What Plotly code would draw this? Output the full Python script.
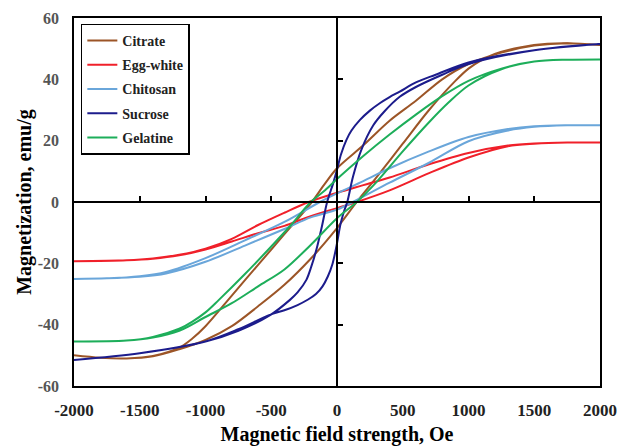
import plotly.graph_objects as go

# ---------------- data ----------------
series_names = ["Citrate", "Egg-white", "Chitosan", "Sucrose", "Gelatine"]
series_colors = ["#9C5527", "#F0202A", "#6AA6DA", "#1C1C8C", "#1DAE5A"]

# Citrate: descending-field branch and ascending-field branch
citrate_down_x = [2000, 1750, 1500, 1250, 1000, 800, 600, 400, 200, 0, -100, -200, -400, -600, -800, -1000, -1100, -1200, -1400, -1600, -1800, -2000]
citrate_down_y = [51.2, 51.8, 51.0, 48.7, 45.0, 40.0, 33.0, 26.5, 18.5, 11.0, 5.5, -0.5, -10.5, -20.5, -30.5, -40.5, -44.5, -47.5, -50.2, -51.0, -50.8, -50.0]
citrate_up_x = [-2000, -1800, -1600, -1400, -1200, -1000, -800, -600, -400, -200, 0, 150, 300, 500, 700, 900, 1000, 1100, 1200, 1400, 1600, 1800, 2000]
citrate_up_y = [-50.0, -50.8, -51.0, -50.3, -48.0, -45.0, -40.5, -34.0, -27.0, -18.5, -8.5, 0.0, 8.0, 19.0, 30.0, 39.5, 43.5, 46.3, 48.3, 50.5, 51.6, 51.7, 51.2]

# Egg-white
egg_down_x = [2000, 1750, 1500, 1300, 1000, 700, 400, 200, 0, -215, -400, -600, -800, -1000, -1200, -1400, -1600, -2000]
egg_down_y = [19.4, 19.4, 19.1, 18.4, 16.0, 12.3, 8.0, 5.5, 3.0, 0.0, -3.5, -7.5, -12.0, -15.2, -17.2, -18.4, -19.0, -19.3]
egg_up_x = [-2000, -1600, -1400, -1200, -1000, -800, -600, -400, -200, 0, 150, 400, 700, 1000, 1300, 1500, 1750, 2000]
egg_up_y = [-19.3, -19.0, -18.5, -17.4, -15.5, -12.9, -10.2, -7.8, -4.6, -2.0, 0.0, 3.8, 9.4, 14.5, 18.2, 19.0, 19.4, 19.4]

# Chitosan
chito_down_x = [2000, 1750, 1500, 1300, 1000, 700, 400, 200, 0, -130, -400, -700, -1000, -1300, -1500, -1750, -2000]
chito_down_y = [25.0, 25.0, 24.7, 23.8, 21.2, 16.5, 11.0, 6.8, 2.8, 0.0, -6.5, -12.5, -18.3, -22.8, -24.2, -24.9, -25.1]
chito_up_x = [-2000, -1750, -1500, -1300, -1000, -700, -400, -200, 0, 120, 400, 700, 1000, 1300, 1500, 1750, 2000]
chito_up_y = [-25.1, -24.9, -24.4, -23.3, -19.5, -14.2, -8.8, -5.0, -2.5, 0.0, 6.3, 12.8, 19.8, 23.3, 24.5, 25.0, 25.0]

# Sucrose
sucrose_down_x = [2000, 1500, 1000, 750, 600, 477, 400, 325, 250, 173, 110, 71, 30, 0, -30, -75, -115, -157, -195, -233, -300, -360, -512, -750, -1000, -1500, -2000]
sucrose_down_y = [51.5, 49.5, 45.5, 41.5, 39.0, 36.0, 34.2, 32.2, 29.8, 26.7, 23.3, 20.2, 15.5, 10.5, 6.0, 0.0, -8.0, -15.6, -21.0, -25.4, -29.5, -32.0, -37.0, -42.0, -45.5, -49.3, -51.5]
sucrose_up_x = [-2000, -1500, -1000, -750, -512, -400, -300, -220, -160, -110, -70, -35, 0, 25, 50, 78, 122, 185, 276, 360, 477, 600, 800, 1000, 1500, 2000]
sucrose_up_y = [-51.5, -49.3, -45.5, -41.5, -36.8, -35.3, -33.6, -31.8, -30.0, -27.5, -24.3, -20.3, -13.5, -7.5, -3.5, 0.0, 8.3, 17.0, 25.0, 29.5, 34.3, 37.5, 41.5, 45.0, 49.5, 51.5]

# Gelatine
gel_down_x = [2000, 1750, 1500, 1250, 1000, 800, 600, 400, 200, 0, -100, -200, -350, -500, -700, -900, -1000, -1100, -1200, -1400, -1600, -2000]
gel_down_y = [46.5, 46.4, 45.8, 43.5, 39.5, 34.5, 28.5, 22.0, 15.0, 7.5, 3.5, 0.0, -7.5, -14.5, -23.5, -32.0, -36.0, -39.0, -41.3, -44.0, -45.2, -45.5]
gel_up_x = [-2000, -1600, -1400, -1200, -1000, -800, -600, -400, -200, 0, 150, 300, 500, 700, 850, 1000, 1250, 1500, 1750, 2000]
gel_up_y = [-45.5, -45.2, -44.2, -42.0, -37.5, -33.0, -27.5, -22.0, -14.0, -5.3, 0.0, 6.5, 16.5, 26.0, 32.5, 38.0, 43.3, 45.8, 46.4, 46.5]

x_tick_vals = [-2000, -1500, -1000, -500, 0, 500, 1000, 1500, 2000]
x_tick_text = ["-2000", "-1500", "-1000", "-500", "0", "500", "1000", "1500", "2000"]
y_tick_vals = [-60, -40, -20, 0, 20, 40, 60]
y_tick_text = ["-60", "-40", "-20", "0", "20", "40", "60"]
x_inner_ticks = [-1500, -1000, -500, 500, 1000, 1500]
y_inner_ticks = [-40, -20, 20, 40]

loops = [
    (citrate_down_x, citrate_down_y, citrate_up_x, citrate_up_y),
    (egg_down_x, egg_down_y, egg_up_x, egg_up_y),
    (chito_down_x, chito_down_y, chito_up_x, chito_up_y),
    (sucrose_down_x, sucrose_down_y, sucrose_up_x, sucrose_up_y),
    (gel_down_x, gel_down_y, gel_up_x, gel_up_y),
]

FONT = "Liberation Serif"

fig = go.Figure()
for name, color, (dx, dy, ux, uy) in zip(series_names, series_colors, loops):
    fig.add_trace(go.Scatter(
        x=dx + ux, y=dy + uy, name=name, mode="lines",
        line=dict(color=color, width=2, shape="spline", smoothing=0.9),
        legendgroup=name,
    ))

# empty trace that hosts the axes through the origin
fig.add_trace(go.Scatter(x=[], y=[], xaxis="x2", yaxis="y2", showlegend=False, hoverinfo="skip"))

fig.update_layout(
    width=619, height=446,
    margin=dict(l=74, r=19, t=18, b=60, autoexpand=False),
    paper_bgcolor="white", plot_bgcolor="white",
    font=dict(family=FONT, color="black"),
    showlegend=True,
    legend=dict(
        x=0.013, y=0.985, xanchor="left", yanchor="top",
        bordercolor="black", borderwidth=1.5, bgcolor="white",
        font=dict(family=FONT, size=14, color="#222222", weight="bold"),
        itemwidth=30, tracegroupgap=3,
    ),
    xaxis=dict(
        range=[-2000, 2000], tickvals=x_tick_vals, ticktext=x_tick_text, ticks="",
        showgrid=False, zeroline=False,
        showline=True, mirror=True, linecolor="black", linewidth=1.5, automargin=False,
        tickfont=dict(family=FONT, size=17, color="#222222", weight="bold"),
        ticklabelstandoff=8,
        title=dict(text="Magnetic field strength, Oe", standoff=13,
                   font=dict(family=FONT, size=20, color="black", weight="bold")),
    ),
    yaxis=dict(
        range=[-60, 60], tickvals=y_tick_vals, ticktext=y_tick_text, ticks="",
        showgrid=False, zeroline=False,
        showline=True, mirror=True, linecolor="black", linewidth=1.5, automargin=False,
        tickfont=dict(family=FONT, size=16, color="#555555", weight="bold"),
        ticklabelstandoff=10,
        title=dict(text="Magnetization, emu/g", standoff=1,
                   font=dict(family=FONT, size=20, color="black", weight="bold")),
    ),
    xaxis2=dict(
        overlaying="x", anchor="free", position=0.5, side="top", automargin=False,
        range=[-2000, 2000], tickvals=x_inner_ticks, ticks="outside", ticklen=5, tickwidth=1.5,
        tickcolor="black", showticklabels=False, showline=True, linecolor="black", linewidth=1.5,
        showgrid=False, zeroline=False,
    ),
    yaxis2=dict(
        overlaying="y", anchor="free", position=0.5, side="right", automargin=False,
        range=[-60, 60], tickvals=y_inner_ticks, ticks="outside", ticklen=5, tickwidth=1.5,
        tickcolor="black", showticklabels=False, showline=True, linecolor="black", linewidth=1.5,
        showgrid=False, zeroline=False,
    ),
)

fig.write_html("out.html", config={"displayModeBar": False},
               post_script="document.body.style.margin='0';")
